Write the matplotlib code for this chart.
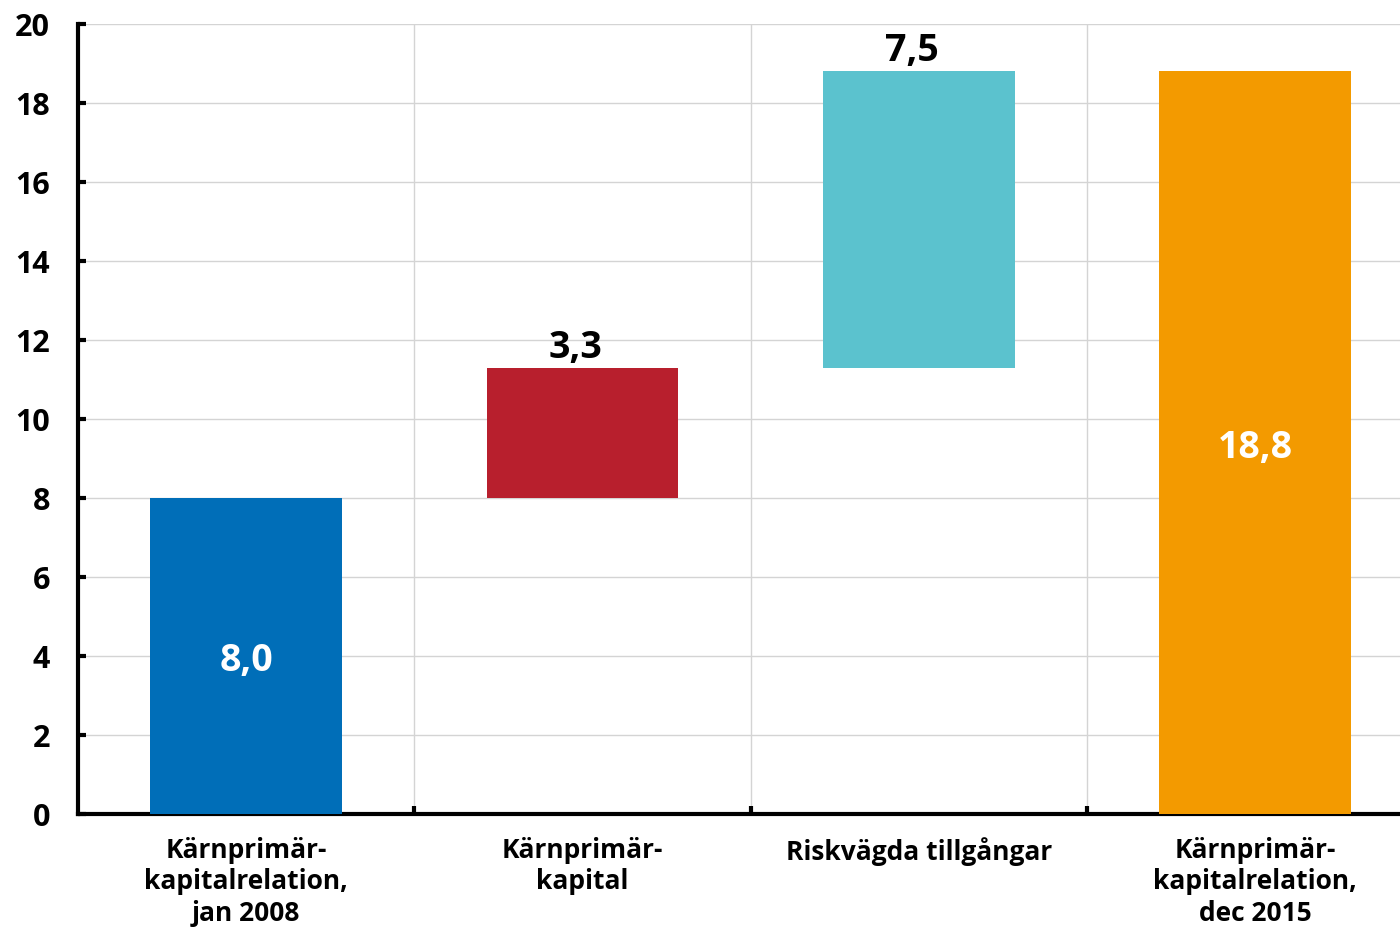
import matplotlib.pyplot as plt

plt.rcParams['font.family'] = ['Open Sans', 'DejaVu Sans']

# -----------------------------
# Data
# -----------------------------
categories = ["Kärnprimär-\nkapitalrelation,\njan 2008",
              "Kärnprimär-\nkapital",
              "Riskvägda tillgångar",
              "Kärnprimär-\nkapitalrelation,\ndec 2015"]
bottoms = [0.0, 8.0, 11.3, 0.0]
heights = [8.0, 3.3, 7.5, 18.8]
labels = ["8,0", "3,3", "7,5", "18,8"]
colors = ["#006EB8", "#B81F2D", "#5BC2CE", "#F39A00"]
yticks = [0, 2, 4, 6, 8, 10, 12, 14, 16, 18, 20]

# -----------------------------
# Plot
# -----------------------------
fig = plt.figure(figsize=(14, 9.28), dpi=100)
ax = fig.add_axes([0.0557, 0.1218, 0.9443, 0.8513])

x = list(range(len(categories)))
ax.bar(x, heights, bottom=bottoms, width=0.57, color=colors, zorder=3)

# value labels: white inside for totals, black above for changes
for i in x:
    if bottoms[i] == 0:
        ax.text(i, bottoms[i] + heights[i] / 2, labels[i], ha='center',
                va='center_baseline', color='white', fontsize=27,
                fontweight='bold', zorder=4)
    else:
        ax.text(i - 0.02, bottoms[i] + heights[i] + 0.05, labels[i], ha='center',
                va='bottom', color='black', fontsize=27, fontweight='bold', zorder=4)

ax.set_xlim(-0.5, 3.43)
ax.set_ylim(0, 20)
ax.set_yticks(yticks)
ax.set_yticklabels([str(v) for v in yticks])

# grid: horizontal at each tick, vertical at category boundaries
ax.set_xticks([0.5, 1.5, 2.5])
ax.set_xticklabels([])
ax.grid(True, color='#d4d4d4', linewidth=1.0, zorder=0)
ax.set_axisbelow(True)

for i, c in enumerate(categories):
    ax.text(i, -0.55, c, ha='center', va='top', fontsize=19, fontweight='bold',
            linespacing=1.22, transform=ax.transData)

ax.spines['top'].set_visible(False)
ax.spines['right'].set_visible(False)
ax.spines['left'].set_linewidth(3)
ax.spines['bottom'].set_linewidth(3)
ax.tick_params(axis='both', direction='in', length=6, width=3, color='black')
ax.tick_params(axis='y', labelsize=22, pad=20)
for t in ax.get_yticklabels():
    t.set_fontweight('bold')

plt.savefig("out.png", dpi=100)
